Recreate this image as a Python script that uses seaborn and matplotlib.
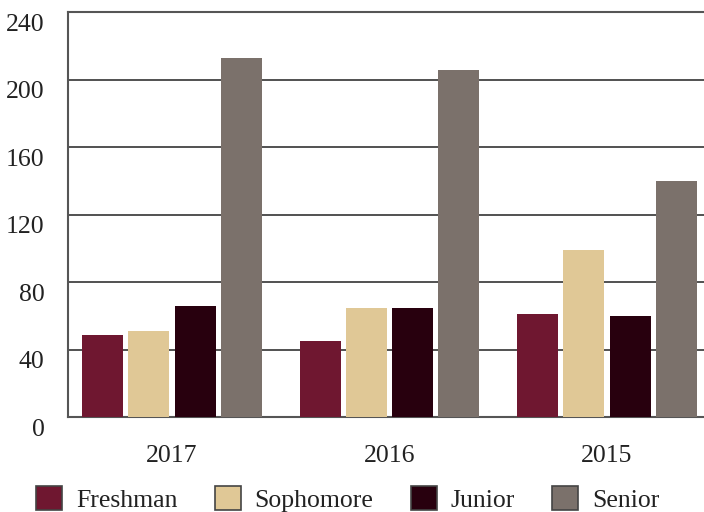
import matplotlib
matplotlib.use("Agg")
import matplotlib.pyplot as plt
import matplotlib.transforms as mtransforms
import seaborn as sns
import pandas as pd
from matplotlib.patches import Patch

years = ["2017", "2016", "2015"]
classes = ["Freshman", "Sophomore", "Junior", "Senior"]
freshman = [49, 45, 61]
sophomore = [51, 65, 99]
junior = [66, 65, 60]
senior = [213, 206, 140]
colors = ["#6F1730", "#E0C896", "#28000E", "#7B716B"]
yticks = [0, 40, 80, 120, 160, 200, 240]

rows = []
for cls, vals in zip(classes, [freshman, sophomore, junior, senior]):
    for y, v in zip(years, vals):
        rows.append({"Year": y, "Class": cls, "Count": v})
df = pd.DataFrame(rows)

sns.set_theme(style="white")
plt.rcParams["font.family"] = ["Liberation Serif", "DejaVu Serif"]

fig = plt.figure(figsize=(7.04, 5.12), dpi=100)
ax = fig.add_axes([68 / 704, 0.185, (704 - 68) / 704, 0.791])

sns.barplot(data=df, x="Year", y="Count", hue="Class", order=years,
            hue_order=classes, palette=colors, width=0.85, gap=0.11,
            saturation=1, ax=ax, legend=False, linewidth=0, edgecolor="none",
            zorder=3)

ax.set_ylim(0, 240)
ax.set_yticks(yticks)
ax.set_xlim(-0.478, 2.446)
ax.yaxis.grid(True, color="#333333", linewidth=1.2, zorder=0)
ax.xaxis.grid(False)
ax.set_axisbelow(True)
for s in ["left", "bottom", "top"]:
    ax.spines[s].set_visible(True)
    ax.spines[s].set_color("#555555")
    ax.spines[s].set_linewidth(1.5)
ax.spines["right"].set_visible(False)
ax.set_xlabel("")
ax.set_ylabel("")
ax.tick_params(axis="y", length=0, pad=17, labelsize=18.5, labelcolor="#222222")
ax.tick_params(axis="x", length=0, pad=20, labelsize=18.5, labelcolor="#222222")

offset = mtransforms.ScaledTranslation(0, -10 / 100, fig.dpi_scale_trans)
for lbl in ax.get_yticklabels():
    lbl.set_transform(lbl.get_transform() + offset)

handles = [Patch(facecolor=c, edgecolor="#444444", linewidth=1.2) for c in colors]
fig.legend(handles, classes, loc="lower center", ncol=4, frameon=False,
           fontsize=18.5, handlelength=1.02, handleheight=1.02,
           handletextpad=0.53, columnspacing=1.45,
           bbox_to_anchor=(0.494, -0.045), labelcolor="#222222")

fig.savefig("out.png", dpi=100)
